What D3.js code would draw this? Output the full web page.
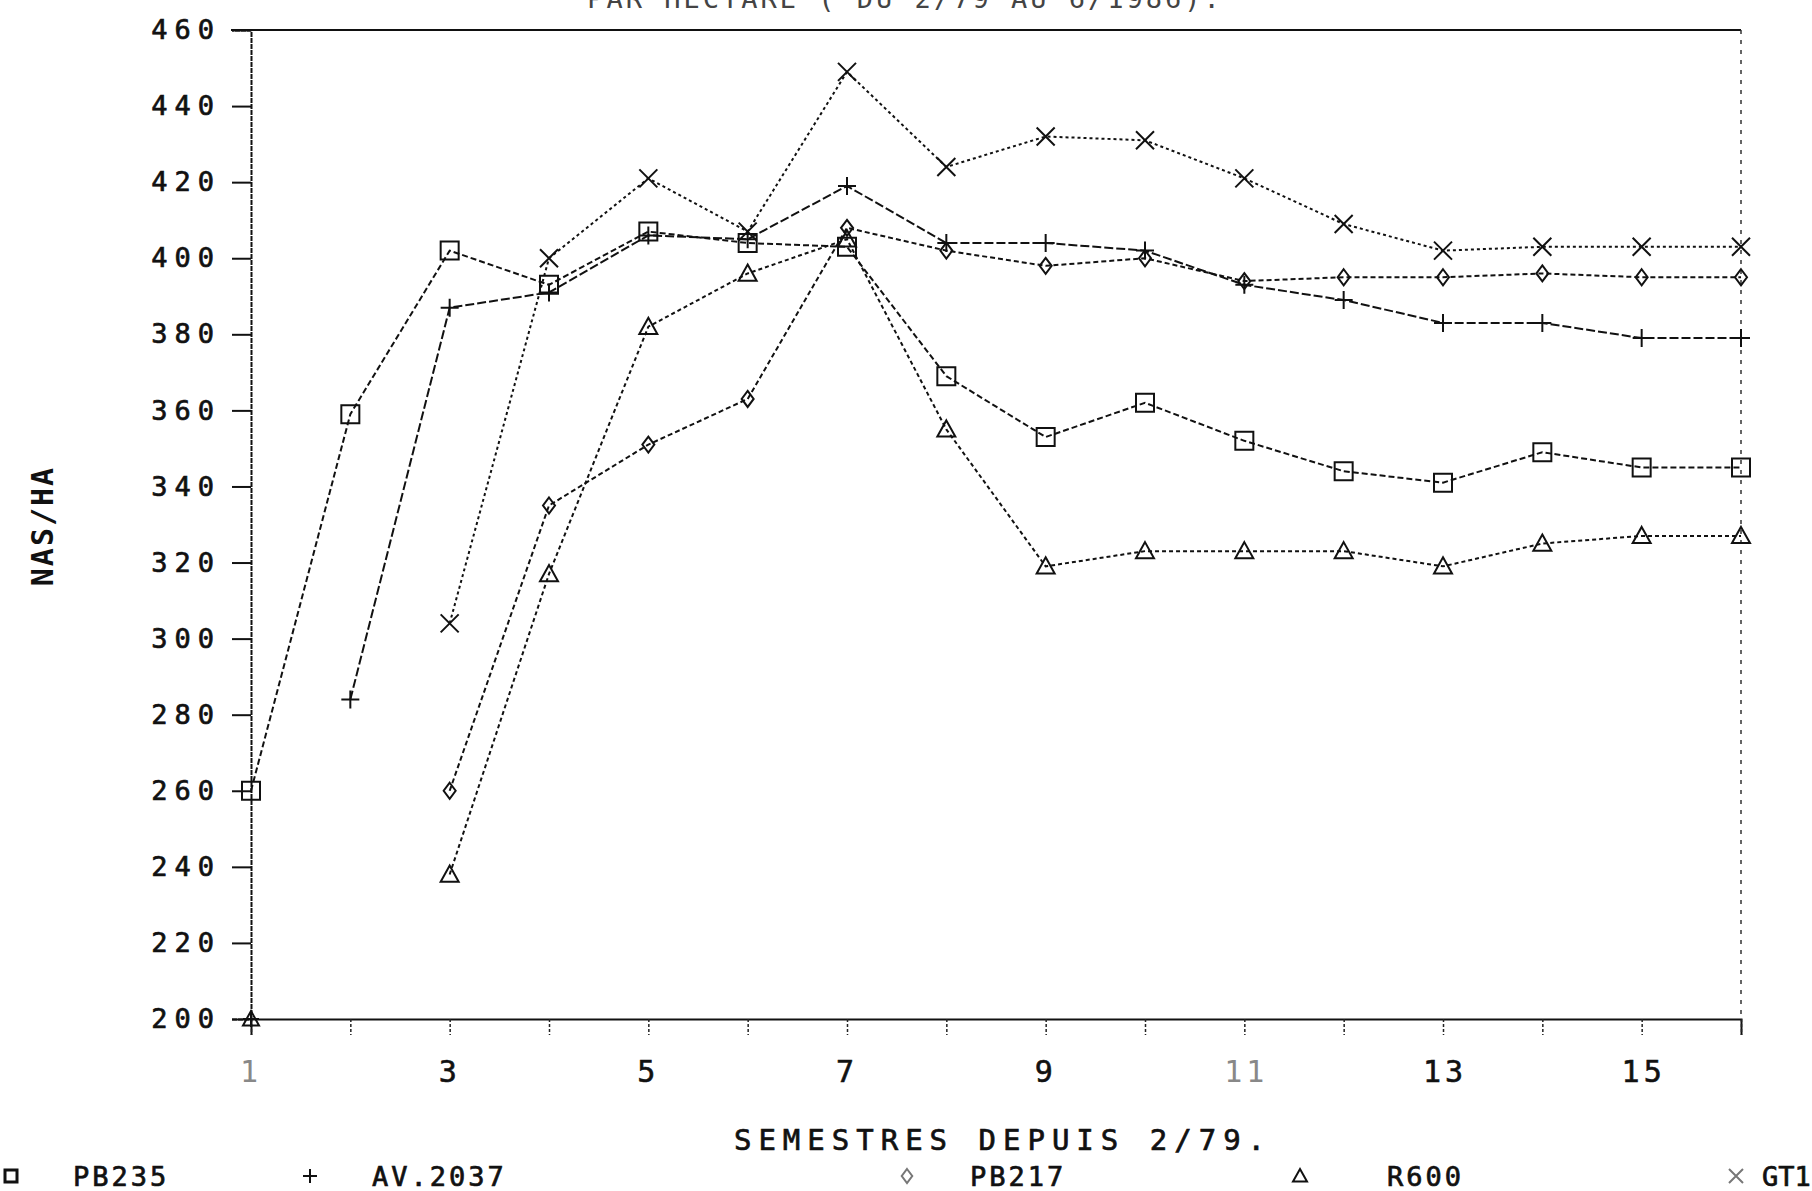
<!DOCTYPE html>
<html>
<head>
<meta charset="utf-8">
<script src="https://cdn.jsdelivr.net/npm/d3@7"></script>
<style>
  body { margin: 0; background: #fff; }
  svg text { font-family: "DejaVu Sans Mono", monospace; fill: #111; }
</style>
</head>
<body>
<div id="chart"></div>
<script>
// semesters since 2/79
const semesters = d3.range(1, 17);
const yTicks = [200, 220, 240, 260, 280, 300, 320, 340, 360, 380, 400, 420, 440, 460];
const xTickLabels = [1, 3, 5, 7, 9, 11, 13, 15];

// values, null = no point
const pb235 = [260, 359, 402, 393, 407, 404, 403, 369, 353, 362, 352, 344, 341, 349, 345, 345];
const av2037 = [null, 284, 387, 391, 406, 405, 419, 404, 404, 402, 393, 389, 383, 383, 379, 379];
const pb217 = [null, null, 260, 335, 351, 363, 408, 402, 398, 400, 394, 395, 395, 396, 395, 395];
const r600 = [null, null, 238, 317, 382, 396, 405, 355, 319, 323, 323, 323, 319, 325, 327, 327];
const gt1 = [null, null, 304, 400, 421, 407, 449, 424, 432, 431, 421, 409, 402, 403, 403, 403];
// points at semester 1 that fall below the axis and sit on it
const clippedFloor = [{ name: 'R600', x: 1 }, { name: 'AV.2037', x: 1 }];

const series = [
    { name: 'PB235', values: pb235, shape: 'square', dash: '6,3' },
    { name: 'AV.2037', values: av2037, shape: 'plus', dash: '9,3' },
    { name: 'PB217', values: pb217, shape: 'diamond', dash: '5,3' },
    { name: 'R600', values: r600, shape: 'triangle', dash: '4,3' },
    { name: 'GT1', values: gt1, shape: 'cross', dash: '3,3' }
];

const W = 1812, H = 1191;
const x = d3.scaleLinear().domain([1, 16]).range([251, 1741]);
const y = d3.scaleLinear().domain([200, 460]).range([1019, 30]);

const svg = d3.select('#chart').append('svg')
    .attr('width', W)
    .attr('height', H);

const shapePath = (shape, s) => {
    switch (shape) {
        case 'square': return `M${-s},${-s}H${s}V${s}H${-s}Z`;
        case 'plus': return `M${-s},0H${s}M0,${-s}V${s}`;
        case 'diamond': return `M0,${-s}L${s * 0.75},0L0,${s}L${-s * 0.75},0Z`;
        case 'triangle': return `M0,${-s}L${s},${s * 0.8}H${-s}Z`;
        case 'cross': return `M${-s},${-s}L${s},${s}M${s},${-s}L${-s},${s}`;
    }
};

// heavier printer-like text
const ink = sel => sel.attr('stroke', '#111').attr('stroke-width', 0.7);

// title, cut by the top of the page
svg.append('text')
    .attr('x', 905)
    .attr('y', 8)
    .attr('text-anchor', 'middle')
    .attr('font-size', 27)
    .attr('letter-spacing', 3)
    .style('fill', '#444')
    .text('PAR HECTARE ( DU 2/79 AU 6/1986).');

// frame: top solid, right dashed
svg.append('line')
    .attr('x1', x(1) - 20).attr('x2', x(16))
    .attr('y1', y(460)).attr('y2', y(460))
    .attr('stroke', '#111').attr('stroke-width', 2);
svg.append('line')
    .attr('x1', x(16)).attr('x2', x(16))
    .attr('y1', y(460)).attr('y2', y(200))
    .attr('stroke', '#333').attr('stroke-width', 1.5)
    .attr('stroke-dasharray', '4,6');

// y axis
const yAxis = d3.axisLeft(y).tickValues(yTicks).tickSize(19).tickPadding(18);
const gy = svg.append('g')
    .attr('transform', `translate(${x(1)},0)`)
    .call(yAxis);
gy.select('.domain').attr('stroke', '#111').attr('stroke-width', 2).attr('stroke-dasharray', '5,1');
gy.selectAll('.tick line').attr('stroke', '#111').attr('stroke-width', 2);
gy.selectAll('.tick text')
    .attr('font-size', 27)
    .attr('letter-spacing', 7)
    .attr('dx', 7)
    .style('font-family', '"DejaVu Sans Mono", monospace')
    .call(ink);

// x axis
const xAxis = d3.axisBottom(x).tickValues(semesters).tickSize(16).tickFormat('');
const gx = svg.append('g')
    .attr('transform', `translate(0,${y(200)})`)
    .call(xAxis);
gx.select('.domain').attr('stroke', '#111').attr('stroke-width', 2);
gx.selectAll('.tick line').attr('stroke', '#222').attr('stroke-width', 1.5).attr('stroke-dasharray', '3,2');

svg.append('g').selectAll('text')
    .data(xTickLabels)
    .join('text')
    .attr('x', d => x(d))
    .attr('y', 1082)
    .attr('text-anchor', 'middle')
    .attr('font-size', 30)
    .attr('letter-spacing', 4)
    .attr('dx', d => d > 9 ? 2 : 0)
    .style('fill', d => (d === 1 || d === 11) ? '#888' : '#111')
    .attr('stroke', d => (d === 1 || d === 11) ? 'none' : '#111')
    .attr('stroke-width', 0.6)
    .text(d => d);

svg.append('text')
    .attr('x', 1003)
    .attr('y', 1150)
    .attr('text-anchor', 'middle')
    .attr('font-size', 29)
    .attr('letter-spacing', 7)
    .call(ink)
    .text('SEMESTRES DEPUIS 2/79.');

svg.append('text')
    .attr('transform', 'translate(53,526) rotate(-90)')
    .attr('text-anchor', 'middle')
    .attr('font-size', 30)
    .attr('font-weight', 'bold')
    .attr('letter-spacing', 2)
    .text('NAS/HA');

// lines
const line = d3.line()
    .defined(d => d.v !== null)
    .x(d => x(d.x))
    .y(d => y(d.v));

series.forEach(s => {
    const pts = s.values.map((v, i) => ({ x: semesters[i], v }));
    svg.append('path')
        .datum(pts)
        .attr('d', line)
        .attr('fill', 'none')
        .attr('stroke', '#111')
        .attr('stroke-width', 2)
        .attr('stroke-dasharray', s.dash);

    svg.append('g').selectAll('path')
        .data(pts.filter(d => d.v !== null))
        .join('path')
        .attr('transform', d => `translate(${x(d.x)},${y(d.v)})`)
        .attr('d', shapePath(s.shape, s.shape === 'diamond' ? 8 : 9))
        .attr('fill', 'none')
        .attr('stroke', '#111')
        .attr('stroke-width', 2);
});

// points sitting on the floor of the axis
svg.append('g').selectAll('path')
    .data(clippedFloor)
    .join('path')
    .attr('transform', d => `translate(${x(d.x)},${y(200)})`)
    .attr('d', d => shapePath(series.find(s => s.name === d.name).shape, 8))
    .attr('fill', 'none')
    .attr('stroke', '#111')
    .attr('stroke-width', 2);

// legend along the bottom edge
const legendMarkX = [11, 310, 907, 1300, 1736];
const legendTextX = [73, 372, 970, 1387, 1762];
series.forEach((s, i) => {
    svg.append('path')
        .attr('transform', `translate(${legendMarkX[i]},1176)`)
        .attr('d', shapePath(s.shape, s.shape === 'square' ? 6 : 7))
        .attr('fill', 'none')
        .attr('stroke', s.shape === 'diamond' || s.shape === 'cross' ? '#777' : '#111')
        .attr('stroke-width', s.shape === 'square' ? 3 : 2);
    svg.append('text')
        .attr('x', legendTextX[i])
        .attr('y', 1186)
        .attr('font-size', 27)
        .attr('letter-spacing', i === series.length - 1 ? 0 : 3)
        .call(ink)
        .text(s.name);
});
</script>
</body>
</html>
